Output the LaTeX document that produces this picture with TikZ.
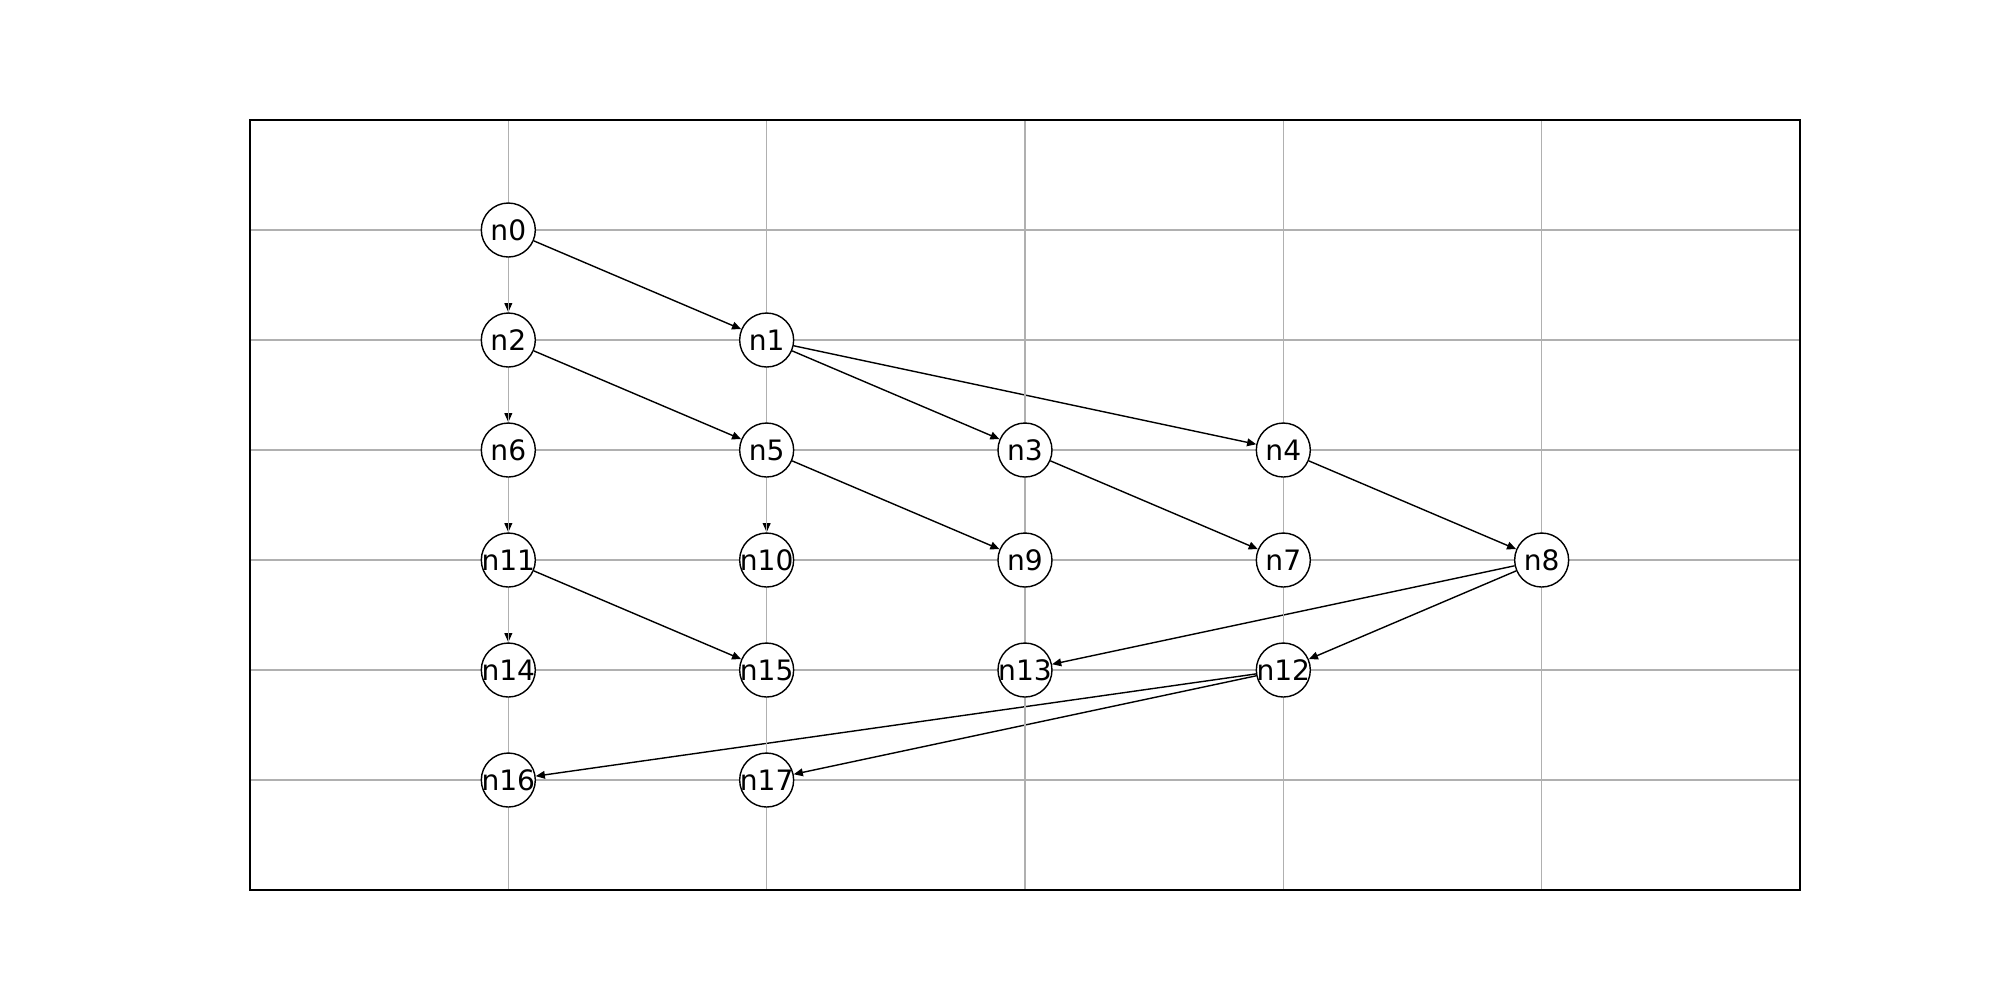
\documentclass[tikz,border=0pt]{standalone}
\usepackage{fontspec}
\setmainfont{DejaVu Sans}
\usetikzlibrary{arrows.meta}
\definecolor{gridgray}{HTML}{B0B0B0}
\pgfdeclarelayer{edgelayer}
\pgfdeclarelayer{gridlayer}
\pgfsetlayers{edgelayer,gridlayer,main}

\begin{document}
\begin{tikzpicture}[x=2.5833cm,y=1.1cm,
		vertex/.style={circle,draw=black,fill=white,line width=0.4pt,minimum size=5.4mm,inner sep=0pt,font=\fontsize{8}{9}\selectfont,
			execute at begin node={\setbox0=\hbox\bgroup},
			execute at end node={\egroup\hbox to 0pt{\hss\box0\hss}}},
		edge/.style={-{Triangle[length=2.6pt,width=2.2pt]},line width=0.4pt}]
		\useasboundingbox (-1.9677,-7) rectangle (5.7742,2.0909);

		\node[vertex] (n0) at (0,0) {n0};
		\node[vertex] (n2) at (0,-1) {n2};
		\node[vertex] (n1) at (1,-1) {n1};
		\node[vertex] (n6) at (0,-2) {n6};
		\node[vertex] (n5) at (1,-2) {n5};
		\node[vertex] (n3) at (2,-2) {n3};
		\node[vertex] (n4) at (3,-2) {n4};
		\node[vertex] (n11) at (0,-3) {n11};
		\node[vertex] (n10) at (1,-3) {n10};
		\node[vertex] (n9) at (2,-3) {n9};
		\node[vertex] (n7) at (3,-3) {n7};
		\node[vertex] (n8) at (4,-3) {n8};
		\node[vertex] (n14) at (0,-4) {n14};
		\node[vertex] (n15) at (1,-4) {n15};
		\node[vertex] (n13) at (2,-4) {n13};
		\node[vertex] (n12) at (3,-4) {n12};
		\node[vertex] (n16) at (0,-5) {n16};
		\node[vertex] (n17) at (1,-5) {n17};

		\begin{pgfonlayer}{gridlayer}
		\draw[gridgray,line width=0.32pt,step={(1,1)}] (-1,-6) grid (5,1);
		\draw[black,line width=0.32pt] (-1,-6) rectangle (5,1);
		\end{pgfonlayer}

		\begin{pgfonlayer}{edgelayer}
		\draw[edge] (n0) -- (n2);
		\draw[edge] (n0) -- (n1);
		\draw[edge] (n2) -- (n6);
		\draw[edge] (n2) -- (n5);
		\draw[edge] (n1) -- (n3);
		\draw[edge] (n1) -- (n4);
		\draw[edge] (n6) -- (n11);
		\draw[edge] (n5) -- (n10);
		\draw[edge] (n5) -- (n9);
		\draw[edge] (n3) -- (n7);
		\draw[edge] (n4) -- (n8);
		\draw[edge] (n11) -- (n14);
		\draw[edge] (n11) -- (n15);
		\draw[edge] (n8) -- (n13);
		\draw[edge] (n8) -- (n12);
		\draw[edge] (n12) -- (n16);
		\draw[edge] (n12) -- (n17);
		\end{pgfonlayer}

	\end{tikzpicture}
\end{document}
